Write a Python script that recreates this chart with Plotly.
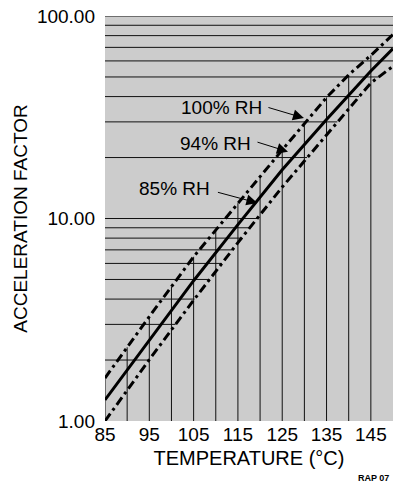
import numpy as np
import plotly.graph_objects as go

# ---- data ----
temps = [85, 95, 105, 115, 125, 135, 140, 145, 150]
rh100 = [1.63, 3.28, 6.47, 11.9, 21.8, 39.6, 51.2, 63.9, 81.0]
rh94 = [1.27, 2.50, 4.93, 9.32, 17.4, 30.8, 40.7, 53.5, 69.0]
rh85 = [1.00, 2.01, 3.95, 7.6, 14.3, 26.0, 34.9, 46.7, 56.5]

grid_temps = [85, 90, 95, 100, 105, 110, 115, 120, 125, 130, 135, 140, 145]
grid_values = [2, 3, 4, 5, 6, 7, 8, 9, 10, 20, 30, 40, 50, 60, 70, 80, 90, 100]

x_ticks = [85, 95, 105, 115, 125, 135, 145]
y_ticks = [1, 10, 100]
y_ticktext = ["1.00", "10.00", "100.00"]

labels = ["100% RH", "94% RH", "85% RH"]

X_MIN, X_MAX = 85, 150
FONT = "Liberation Sans, Arial, Helvetica, sans-serif"

# ---- staircase grid: verticals up to the 100% curve, horizontals out to the 85% curve ----
log_up = np.log10(rh100)
log_lo = np.log10(rh85)

gx, gy = [], []
for t in grid_temps:
    top = 10 ** np.interp(t, temps, log_up)
    gx += [t, t, None]
    gy += [1, top, None]
for v in grid_values:
    lv = np.log10(v)
    if lv >= log_lo[-1]:
        end = X_MAX
    else:
        end = float(np.interp(lv, log_lo, temps))
    gx += [X_MIN, end, None]
    gy += [v, v, None]

fig = go.Figure()
fig.add_trace(go.Scatter(x=gx, y=gy, mode="lines",
                         line=dict(color="#111111", width=1),
                         hoverinfo="skip", showlegend=False))

dashdot = "9px,4px,3px,4px"
fig.add_trace(go.Scatter(x=temps, y=rh100, mode="lines", name=labels[0],
                         line=dict(color="black", width=3, dash=dashdot), showlegend=False))
fig.add_trace(go.Scatter(x=temps, y=rh94, mode="lines", name=labels[1],
                         line=dict(color="black", width=3), showlegend=False))
fig.add_trace(go.Scatter(x=temps, y=rh85, mode="lines", name=labels[2],
                         line=dict(color="black", width=3, dash=dashdot), showlegend=False))

# label texts and arrows
text_pos = [(111.3, 1.546), (110.0, 1.368), (100.7, 1.146)]
arrow_head = [(129.9, 1.496), (126.3, 1.330), (119.4, 1.077)]
arrow_tail = [(-37, -11), (-32, -10), (-41, -11)]
for lab, (tx, ty), (hx, hy), (ax, ay) in zip(labels, text_pos, arrow_head, arrow_tail):
    fig.add_annotation(x=tx, y=ty, xref="x", yref="y", text=lab, showarrow=False,
                       font=dict(family=FONT, size=19, color="black"),
                       xanchor="center", yanchor="middle")
    fig.add_annotation(x=hx, y=hy, xref="x", yref="y", text="", showarrow=True,
                       ax=ax, ay=ay, axref="pixel", ayref="pixel",
                       arrowhead=2, arrowsize=2.2, arrowwidth=1, arrowcolor="black")

fig.add_annotation(x=(391 - 105) / 288, y=(421 - 478) / 405, xref="paper", yref="paper",
                   text="<b>RAP 07</b>", showarrow=False,
                   font=dict(family=FONT, size=9, color="black"),
                   xanchor="right", yanchor="middle")

fig.update_layout(
    width=393, height=486,
    margin=dict(l=105, r=0, t=16, b=65, pad=0),
    paper_bgcolor="white", plot_bgcolor="#cccccc",
    font=dict(family=FONT, size=19, color="black"),
    xaxis=dict(range=[X_MIN, X_MAX], tickvals=x_ticks, showgrid=False, zeroline=False,
               showline=False, ticks="", ticklabelstandoff=0,
               title=dict(text="TEMPERATURE (°C)", standoff=6,
                          font=dict(family=FONT, size=20))),
    yaxis=dict(type="log", range=[0, 2], tickvals=y_ticks, ticktext=y_ticktext,
               showgrid=False, zeroline=False, showline=False, ticks="",
               ticklabelstandoff=9,
               title=dict(text="ACCELERATION FACTOR", standoff=4,
                          font=dict(family=FONT, size=19))),
)

fig.write_html("out.html", config={"displayModeBar": False},
               post_script="document.body.style.margin='0px';")
